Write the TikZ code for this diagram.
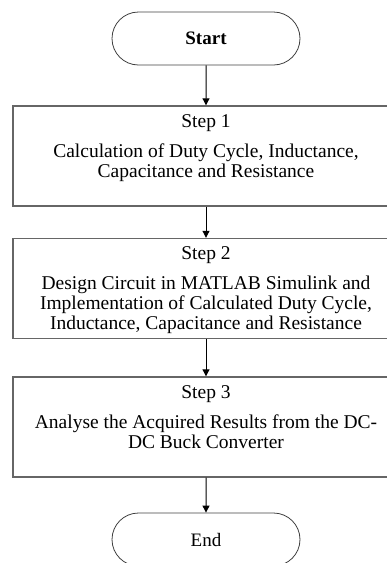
\documentclass[tikz,border=0pt]{standalone}
\usepackage{fontspec}
\setmainfont{Liberation Serif}
\usepackage{tikz}
\usetikzlibrary{arrows.meta}
\usetikzlibrary{positioning}
\usetikzlibrary{shapes.misc}
\tikzset{
    term/.style={
           rounded rectangle,
           draw=black!75, thick,
           minimum width=192pt,
           minimum height=53pt,
           inner sep=2pt,
           font=\fontsize{19}{20}\selectfont,
           text centered,
           },
    stepbox/.style={
           rectangle,
           draw=black!60, line width=1.4pt,
           inner xsep=3pt,
           inner ysep=7pt,
           font=\fontsize{19.5}{20}\selectfont,
           text centered,
           },
}

\begin{document}
\begin{tikzpicture}
[
->,>={Triangle[length=7pt,width=7pt]}, line width=1pt, x=1pt, y=1pt
]

 % page size of the figure
 \useasboundingbox (0,0) rectangle (387,-563);
 \clip (0,0) rectangle (387,-563);

 % First node
 \node[term] (START) at (206,-38.5)
 {%
\textbf{Start}
 };

 % Step 1
 \node[stepbox,
 below of=START,
 node distance=117.5pt] (STEP1)
 {%
 \parbox[t][86pt][t]{380pt}{\centering\strut Step 1\\[10pt]
  Calculation of Duty Cycle, Inductance,\\
  Capacitance and Resistance}
 };

 % Step 2
 \node[stepbox,
 below of=STEP1,
 node distance=132.5pt] (STEP2)
 {%
 \parbox[t][86pt][t]{380pt}{\centering\strut Step 2\\[10pt]
  Design Circuit in MATLAB Simulink and\\
  Implementation of Calculated Duty Cycle,\\
  Inductance, Capacitance and Resistance}
 };

 % Step 3
 \node[stepbox,
 below of=STEP2,
 node distance=138.5pt] (STEP3)
 {%
 \parbox[t][86pt][t]{380pt}{\centering\strut Step 3\\[10pt]
  Analyse the Acquired Results from the DC-\\
  DC Buck Converter}
 };

 % last node
 \node[term,
 below of=STEP3,
 node distance=112.5pt] (END)
 {%
End
 };

 % draw the arrows
 \path
 (START) edge (STEP1)
 (STEP1) edge (STEP2)
 (STEP2) edge (STEP3)
 (STEP3) edge (END)
 ;
\end{tikzpicture}
\end{document}
